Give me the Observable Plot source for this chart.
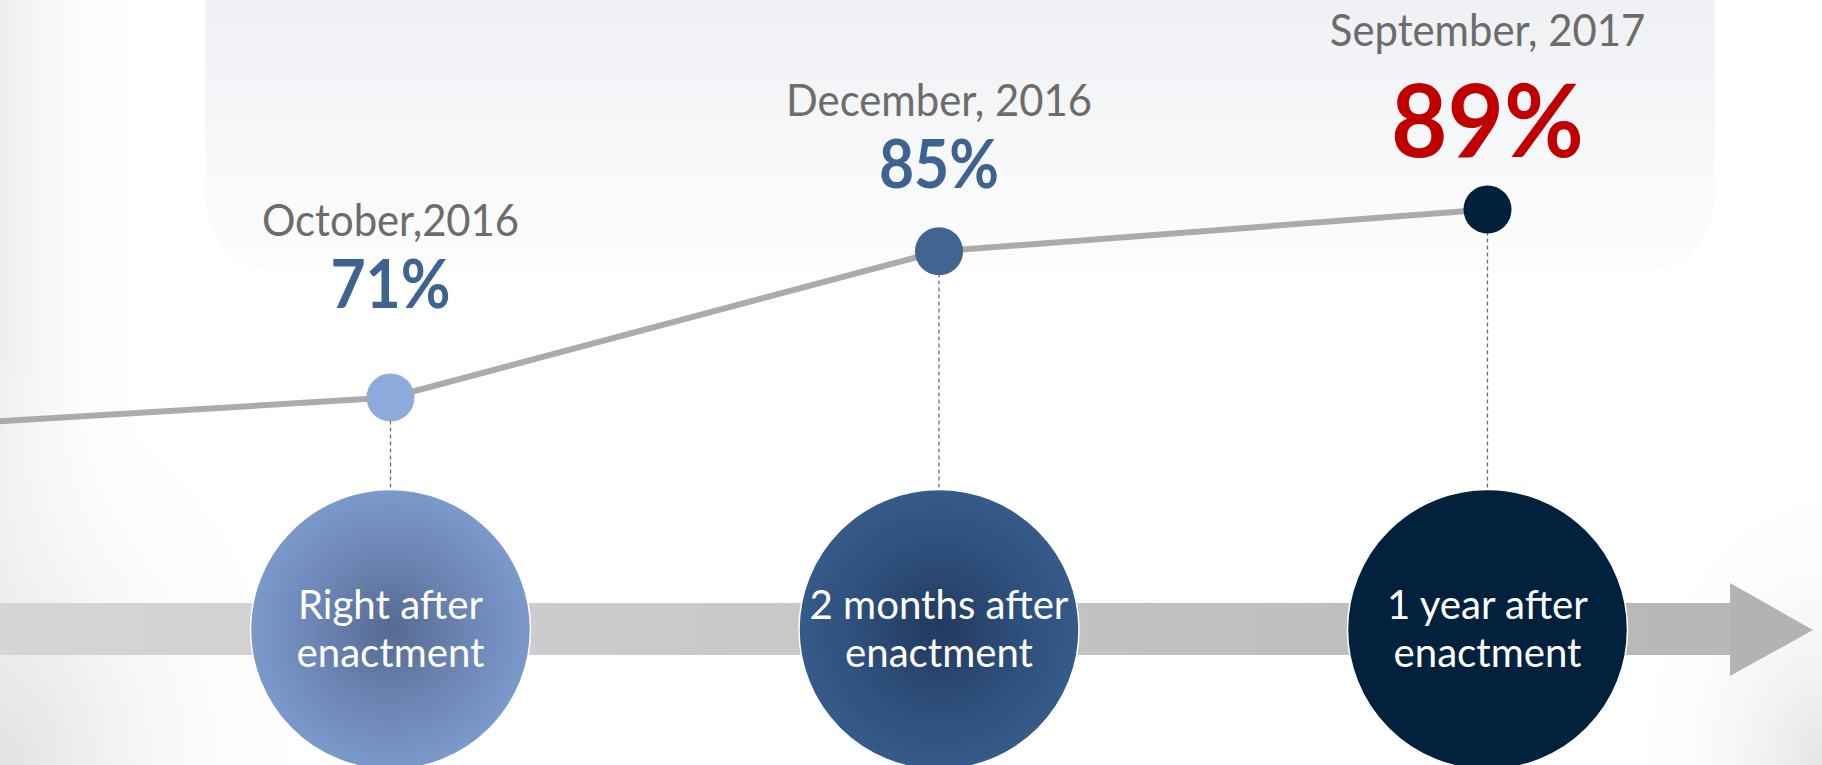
<!DOCTYPE html>
<html>
<head>
<meta charset="utf-8">
<script src="https://cdn.jsdelivr.net/npm/d3@7"></script>
<script src="https://cdn.jsdelivr.net/npm/@observablehq/plot@0.6"></script>
<style>
  html, body { margin: 0; padding: 0; background: #fff; overflow: hidden; }
  #chart svg { display: block; }
</style>
</head>
<body>
<div id="chart"></div>
<script>
// ---- data ----
const lineSteps  = [0, 1, 2, 3];          // step 0 = before enactment (off the left edge)
const lineShares = [67.8, 71, 85, 89];
const steps   = [1, 2, 3];
const shares  = [71, 85, 89];
const dates   = ["October,2016", "December, 2016", "September, 2017"];
const stages  = ["Right after\nenactment", "2 months after\nenactment", "1 year after\nenactment"];
const dotColors   = ["#8eaadb", "#416592", "#00203c"];
const circleFills = ["url(#stage0)", "url(#stage1)", "url(#stage2)"];
const shareColors = ["#3f6391", "#3f6391", "#c00000"];

const lineData = lineSteps.map((s, i) => ({step: s, share: lineShares[i]}));
const points = steps.map((s, i) => ({
  step: s, share: shares[i], date: dates[i], stage: stages[i],
  dot: dotColors[i], circle: circleFills[i], color: shareColors[i],
  pct: shares[i] + "%"
}));

// ---- layout (styling, not data) ----
const W = 1822, H = 765;
const dateDy  = [-162, -135, -164];
const shareDy = [-90, -63, -53];
const shareSize = [66, 66, 102];
const shareCondense = [0.92, 0.92, 0.955];
const FONT = "Lato, 'Open Sans', sans-serif";

const svg = Plot.plot({
  width: W, height: H,
  margin: 0,
  x: {domain: [1, 3], range: [390, 1487], axis: null},
  y: {domain: [71, 89], range: [397, 209], axis: null},
  color: {type: "identity"},
  style: {fontFamily: FONT, background: "transparent"},
  marks: [
    Plot.line(lineData, {x: "step", y: "share", stroke: "#aeaaaa", strokeWidth: 6, clip: true}),
    Plot.ruleX(points, {x: "step", y1: "share", stroke: "#5d6f8c", strokeWidth: 1.3, strokeDasharray: "4,3"}),
    Plot.dot(points, {x: "step", y: "share", r: 24, fill: "dot", stroke: null}),
    Plot.dot(points, {x: "step", frameAnchor: "bottom", dy: -136, r: 140, fill: "circle", stroke: "#ffffff", strokeWidth: 1.5}),
    Plot.text(points, {x: "step", frameAnchor: "bottom", dy: -138, lineAnchor: "middle", text: "stage", fill: "#ffffff",
      fontSize: 41, lineHeight: 1.17, fontFamily: FONT}),
    ...points.map((p, i) => Plot.text([p], {x: "step", y: "share", text: "date", dy: dateDy[i],
      lineAnchor: "bottom", fill: "#6e6b6b", fontSize: 44, fontWeight: 400, fontFamily: FONT})),
    ...points.map((p, i) => Plot.text([p], {x: "step", y: "share", text: "pct", dy: shareDy[i],
      lineAnchor: "bottom", fill: "color", fontSize: shareSize[i], fontWeight: 700, fontFamily: FONT}))
  ]
});

// ---- decorative background, gradients and timeline arrow ----
const deco = d3.create("svg:g").attr("aria-label", "decoration");
const defs = deco.append("defs");
function radial(id, stops, cx = "50%", cy = "50%", r = "50%") {
  const g = defs.append("radialGradient").attr("id", id).attr("cx", cx).attr("cy", cy).attr("r", r);
  stops.forEach(([o, c, op = 1]) => g.append("stop").attr("offset", o).attr("stop-color", c).attr("stop-opacity", op));
}
function linear(id, stops, x2 = "100%", y2 = "0%") {
  const g = defs.append("linearGradient").attr("id", id).attr("x1", "0%").attr("y1", "0%").attr("x2", x2).attr("y2", y2);
  stops.forEach(([o, c, op = 1]) => g.append("stop").attr("offset", o).attr("stop-color", c).attr("stop-opacity", op));
}
radial("stage0", [["0%", "#556a91"], ["55%", "#6c86b5"], ["100%", "#7b99cb"]]);
radial("stage1", [["0%", "#223a5e"], ["55%", "#2d4e7a"], ["100%", "#355b8a"]]);
radial("stage2", [["0%", "#01213d"], ["100%", "#01213d"]]);
linear("panel", [["0%", "#eef0f4"], ["70%", "#f9fafb"], ["100%", "#fcfcfc"]], "0%", "100%");
linear("leftfade", [["0%", "#eeeeee"], ["100%", "#ffffff", 0]]);
radial("blcorner", [["0%", "#e2e2e2"], ["100%", "#ffffff", 0]], "0%", "100%", "100%");
radial("brcorner", [["0%", "#e4e4e4"], ["100%", "#ffffff", 0]], "100%", "100%", "100%");
linear("band", [["0%", "#d6d6d6"], ["100%", "#b7b7b7"]]);

deco.append("rect").attr("width", W).attr("height", H).attr("fill", "#ffffff");
deco.append("rect").attr("x", 0).attr("y", 0).attr("width", 150).attr("height", H).attr("fill", "url(#leftfade)");
deco.append("rect").attr("x", 0).attr("y", H - 420).attr("width", 330).attr("height", 420).attr("fill", "url(#blcorner)");
deco.append("rect").attr("x", W - 200).attr("y", H - 300).attr("width", 200).attr("height", 300).attr("fill", "url(#brcorner)");
// top panel with rounded lower corners
const px0 = 205, px1 = 1715, py1 = 272, rr = 85;
deco.append("path")
  .attr("d", `M${px0},-5 L${px1},-5 L${px1},${py1 - rr} Q${px1},${py1} ${px1 - rr},${py1} L${px0 + rr},${py1} Q${px0},${py1} ${px0},${py1 - rr} Z`)
  .attr("fill", "url(#panel)");
// timeline arrow
deco.append("rect").attr("x", 0).attr("y", 603).attr("width", 1731).attr("height", 52).attr("fill", "url(#band)");
deco.append("path").attr("d", "M1730,583 L1813,630 L1730,676 Z").attr("fill", "#b3b3b3");

const firstG = svg.querySelector("g");
svg.insertBefore(deco.node(), firstG);

document.getElementById("chart").appendChild(svg);

// condense the label glyphs horizontally (the original uses a narrow face)
function condense(el, factor) {
  const len = el.getComputedTextLength();
  if (len > 0) {
    el.setAttribute("textLength", (len * factor).toFixed(1));
    el.setAttribute("lengthAdjust", "spacingAndGlyphs");
  }
}
const dateSet = new Set(dates);
const pctIndex = new Map(points.map((p, i) => [p.pct, i]));
svg.querySelectorAll("text").forEach(t => {
  const s = t.textContent;
  if (dateSet.has(s)) condense(t, 0.95);
  else if (pctIndex.has(s)) condense(t, shareCondense[pctIndex.get(s)]);
});
svg.querySelectorAll("tspan").forEach(t => condense(t, 0.98));
</script>
</body>
</html>
